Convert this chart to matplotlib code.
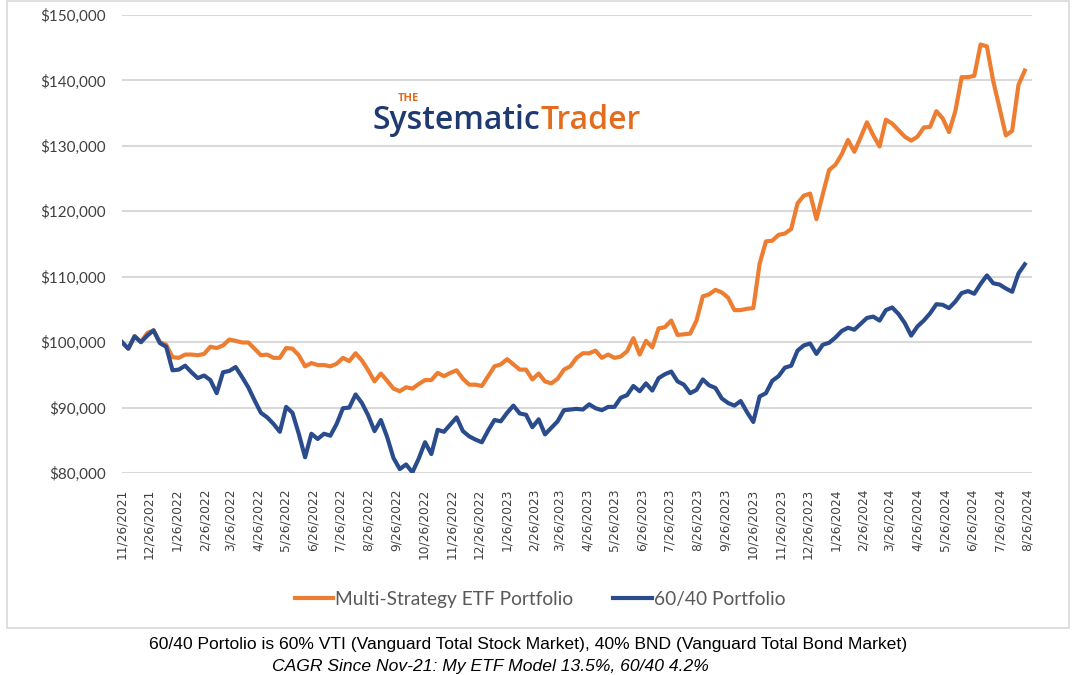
import pandas as pd
import numpy as np
import matplotlib
matplotlib.use("Agg")
from matplotlib import pyplot as plt
from matplotlib import font_manager
from matplotlib.patches import Rectangle

# weekly portfolio values (start 11/26/2021)
multi_strategy = [
    100000, 99000, 100900, 100000, 101400, 101800, 100000, 99600, 97700, 97600,
    98100, 98100, 98000, 98200, 99300, 99100, 99500, 100400, 100200, 99950,
    99950, 99000, 98000, 98100, 97600, 97600, 99100, 99000, 98000, 96300,
    96800, 96500, 96500, 96300, 96700, 97600, 97100, 98300, 97200, 95700,
    94000, 95200, 94100, 92900, 92500,
    93100, 92900, 93600, 94200, 94200, 95300, 94800, 95300, 95700, 94400,
    93500, 93500, 93300, 94800, 96300, 96600, 97400, 96600, 95800, 95800,
    94300, 95200, 94000, 93700, 94400, 95800, 96300, 97600, 98300, 98300,
    98700, 97600, 98100, 97600, 97800, 98600, 100600, 98100, 100200, 99200,
    102100, 102300, 103300, 101100, 101200, 101300, 103300,
    107000, 107300, 108000, 107600, 106800, 104900, 104900, 105100, 105200, 112000,
    115400, 115500, 116400, 116600, 117300, 121200, 122400, 122700, 118800, 122600,
    126300, 127100, 128700, 130900, 129100, 131300, 133600, 131600, 129900, 134000,
    133400, 132400, 131400, 130800, 131400, 132800, 132900, 135300, 134200, 132100,
    135300, 140500, 140500, 140700, 145500, 145200, 139900, 135800, 131600, 132300,
    139300, 141500,
]
portfolio_6040 = [
    100000, 99000, 100900, 100000, 101000, 101800, 99850, 99300, 95700, 95800,
    96400, 95400, 94500, 94900, 94200, 92200, 95400, 95600, 96200, 94700,
    93100, 91100, 89200, 88500, 87500, 86300, 90100, 89200, 86000, 82400,
    86000, 85200, 86000, 85700, 87500, 89900, 90000, 92000, 90700, 88800,
    86400, 88100, 85500, 82300, 80600,
    81300, 80100, 82200, 84700, 82900, 86600, 86300, 87400, 88500, 86400,
    85600, 85100, 84700, 86500, 88100, 87900, 89200, 90300, 89100, 88900,
    87000, 88200, 85900, 86900, 87900, 89600, 89700, 89800, 89700, 90500,
    89900, 89600, 90100, 90100, 91500, 91900, 93300, 92500, 93700, 92600,
    94500, 95100, 95500, 94000, 93500, 92200, 92700,
    94300, 93400, 93000, 91400, 90700, 90300, 91000, 89300, 87800, 91700,
    92200, 94100, 94800, 96100, 96400,
    98700, 99500, 99800, 98200, 99600, 99900, 100700, 101700, 102200, 101900,
    102800, 103700, 103900, 103300, 104900, 105300, 104300, 102900, 101000, 102400,
    103300, 104400, 105800, 105700, 105200, 106200, 107500, 107800, 107400, 108900,
    110200, 109000, 108800, 108200, 107700, 110500, 111900,
]
start_date = "2021-11-26"
y_ticks = [80000, 90000, 100000, 110000, 120000, 130000, 140000, 150000]
series_names = ["Multi-Strategy ETF Portfolio", "60/40 Portfolio"]
note_line1 = "60/40 Portolio is 60% VTI (Vanguard Total Stock Market), 40% BND (Vanguard Total Bond Market)"
note_line2 = "CAGR Since Nov-21: My ETF Model 13.5%, 60/40 4.2%"

ORANGE = "#ED7D31"
BLUE = "#2B4C8C"
GRID = "#D9D9D9"

names = {f.name for f in font_manager.fontManager.ttflist}
narrow = "Liberation Sans Narrow" if "Liberation Sans Narrow" in names else "Liberation Sans"
note_size = 11 if narrow == "Liberation Sans Narrow" else 12.6
label_font = "Lato"

dates = pd.date_range(start_date, periods=len(multi_strategy), freq="7D")
tick_dates = pd.date_range(start_date, periods=34, freq=pd.DateOffset(months=1))

W, H = 1080, 675
fig = plt.figure(figsize=(W / 100, H / 100), dpi=100)
ax = fig.add_axes([122 / W, 1 - 473 / H, (1032 - 122) / W, (473 - 15) / H])

ax.plot(dates, multi_strategy, color=ORANGE, lw=3, solid_joinstyle="round",
        label=series_names[0], zorder=3)
ax.plot(dates, portfolio_6040, color=BLUE, lw=3, solid_joinstyle="round",
        label=series_names[1], zorder=4)

ax.set_ylim(80000, 150000)
ax.set_yticks(y_ticks)
ax.set_yticklabels([f"${v:,.0f}" for v in y_ticks], fontsize=11,
                   family=label_font, color="#404040")
ax.set_xlim(pd.Timestamp(start_date), pd.Timestamp("2024-08-31"))
ax.set_xticks(tick_dates)
ax.set_xticklabels([f"{d.month}/{d.day}/{d.year}" for d in tick_dates],
                   rotation=90, fontsize=8.8, family="DejaVu Sans", color="#404040")
ax.tick_params(length=0, axis="both")
ax.tick_params(axis="y", pad=11.5)
ax.tick_params(axis="x", pad=11)
ax.grid(axis="y", color=GRID, lw=1.5)
ax.set_axisbelow(True)
for s in ax.spines.values():
    s.set_visible(False)

# chart border
fig.patches.append(Rectangle((7 / W, 1 - 628 / H), (1069 - 7) / W, (628 - 1) / H,
                             transform=fig.transFigure, fill=False,
                             edgecolor=GRID, lw=1.2))

# logo: "Trader" placed right after "Systematic"
logo1 = fig.text(372 / W, 1 - 129 / H, "Systematic", fontsize=23, family="Open Sans",
                 weight="semibold", color="#1F3A70", ha="left", va="baseline")
bb = logo1.get_window_extent(renderer=fig.canvas.get_renderer())
fig.text((bb.x1 + 1) / W, 1 - 129 / H, "Trader", fontsize=23, family="Open Sans",
         weight="semibold", color="#E46C1E", ha="left", va="baseline")
fig.text(408 / W, 1 - 101 / H, "THE", fontsize=8, family="Open Sans",
         weight="bold", color="#E46C1E", ha="center", va="baseline")

fig.legend(loc="center", bbox_to_anchor=(0.5, 1 - 599 / H), ncol=2, frameon=False,
           prop={"family": label_font, "size": 13.8}, labelcolor="#595959",
           handlelength=2.0, handletextpad=0.1, columnspacing=2.1)

fig.text(528 / W, 1 - 645 / H, note_line1, fontsize=note_size, family=narrow,
         ha="center", va="center", color="black")
fig.text(490 / W, 1 - 674 / H, note_line2, fontsize=note_size, family=narrow,
         style="italic", ha="center", va="bottom", color="black")

fig.savefig("out.png", dpi=100)
